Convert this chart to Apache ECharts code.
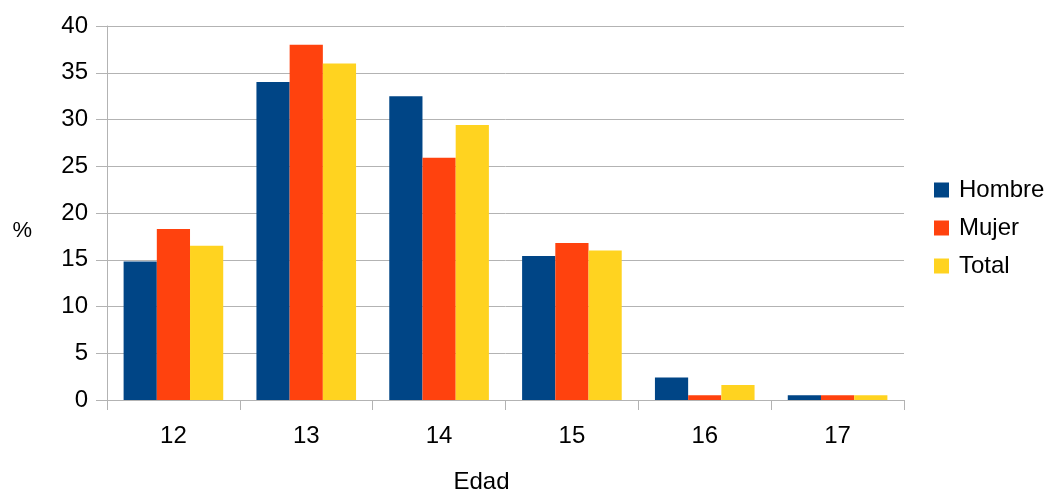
<!DOCTYPE html>
<html>
<head>
<meta charset="utf-8">
<script src="https://cdn.jsdelivr.net/npm/echarts@6/dist/echarts.min.js"></script>
<style>
html,body{margin:0;padding:0;background:#fff;}
#chart{width:1049px;height:490px;}
</style>
</head>
<body>
<div id="chart"></div>
<script>
const categories = ['12', '13', '14', '15', '16', '17'];
const hombre = [14.8, 34.0, 32.5, 15.4, 2.4, 0.5];
const mujer = [18.3, 38.0, 25.9, 16.8, 0.5, 0.5];
const total = [16.5, 36.0, 29.4, 16.0, 1.6, 0.5];
const yTicks = [0, 5, 10, 15, 20, 25, 30, 35, 40];

const font = '"Liberation Sans", Arial, sans-serif';
const chart = echarts.init(document.getElementById('chart'), null, {renderer: 'canvas'});
chart.setOption({
  animation: false,
  textStyle: {fontFamily: font},
  grid: {left: 107, right: 145, top: 26, bottom: 90, containLabel: false, outerBoundsMode: 'none'},
  legend: {
    orient: 'vertical',
    left: 929,
    top: 173,
    itemWidth: 15,
    itemHeight: 15,
    itemGap: 14,
    icon: 'rect',
    textStyle: {fontSize: 24, color: '#000', fontFamily: font, padding: [0, 0, 0, 5]},
    data: ['Hombre', 'Mujer', 'Total']
  },
  xAxis: {
    type: 'category',
    data: categories,
    name: 'Edad',
    nameLocation: 'middle',
    nameGap: 70,
    nameTextStyle: {fontSize: 24, color: '#000', fontFamily: font, padding: [0, 48, 0, 0]},
    axisLine: {show: true, lineStyle: {color: '#b3b3b3', width: 1}},
    axisTick: {show: true, length: 10, lineStyle: {color: '#b3b3b3'}},
    axisLabel: {fontSize: 24, color: '#000', margin: 24, fontFamily: font},
    splitLine: {show: false}
  },
  yAxis: {
    type: 'value',
    min: yTicks[0],
    max: yTicks[yTicks.length - 1],
    interval: 5,
    name: '%',
    nameLocation: 'middle',
    nameRotate: 0,
    nameGap: 75,
    nameTextStyle: {fontSize: 22, color: '#000', fontFamily: font, verticalAlign: 'top', lineHeight: 36},
    axisLine: {show: true, lineStyle: {color: '#b3b3b3', width: 1}},
    axisTick: {show: true, inside: false, length: 11, lineStyle: {color: '#b3b3b3'}},
    axisLabel: {fontSize: 24, color: '#000', margin: 19, fontFamily: font},
    splitLine: {show: true, lineStyle: {color: '#b3b3b3', width: 1}}
  },
  series: [
    {name: 'Hombre', type: 'bar', data: hombre, itemStyle: {color: '#004586'}, barGap: '0%', barCategoryGap: '25%'},
    {name: 'Mujer', type: 'bar', data: mujer, itemStyle: {color: '#ff420e'}, barGap: '0%', barCategoryGap: '25%'},
    {name: 'Total', type: 'bar', data: total, itemStyle: {color: '#ffd320'}, barGap: '0%', barCategoryGap: '25%'}
  ]
});
</script>
</body>
</html>
